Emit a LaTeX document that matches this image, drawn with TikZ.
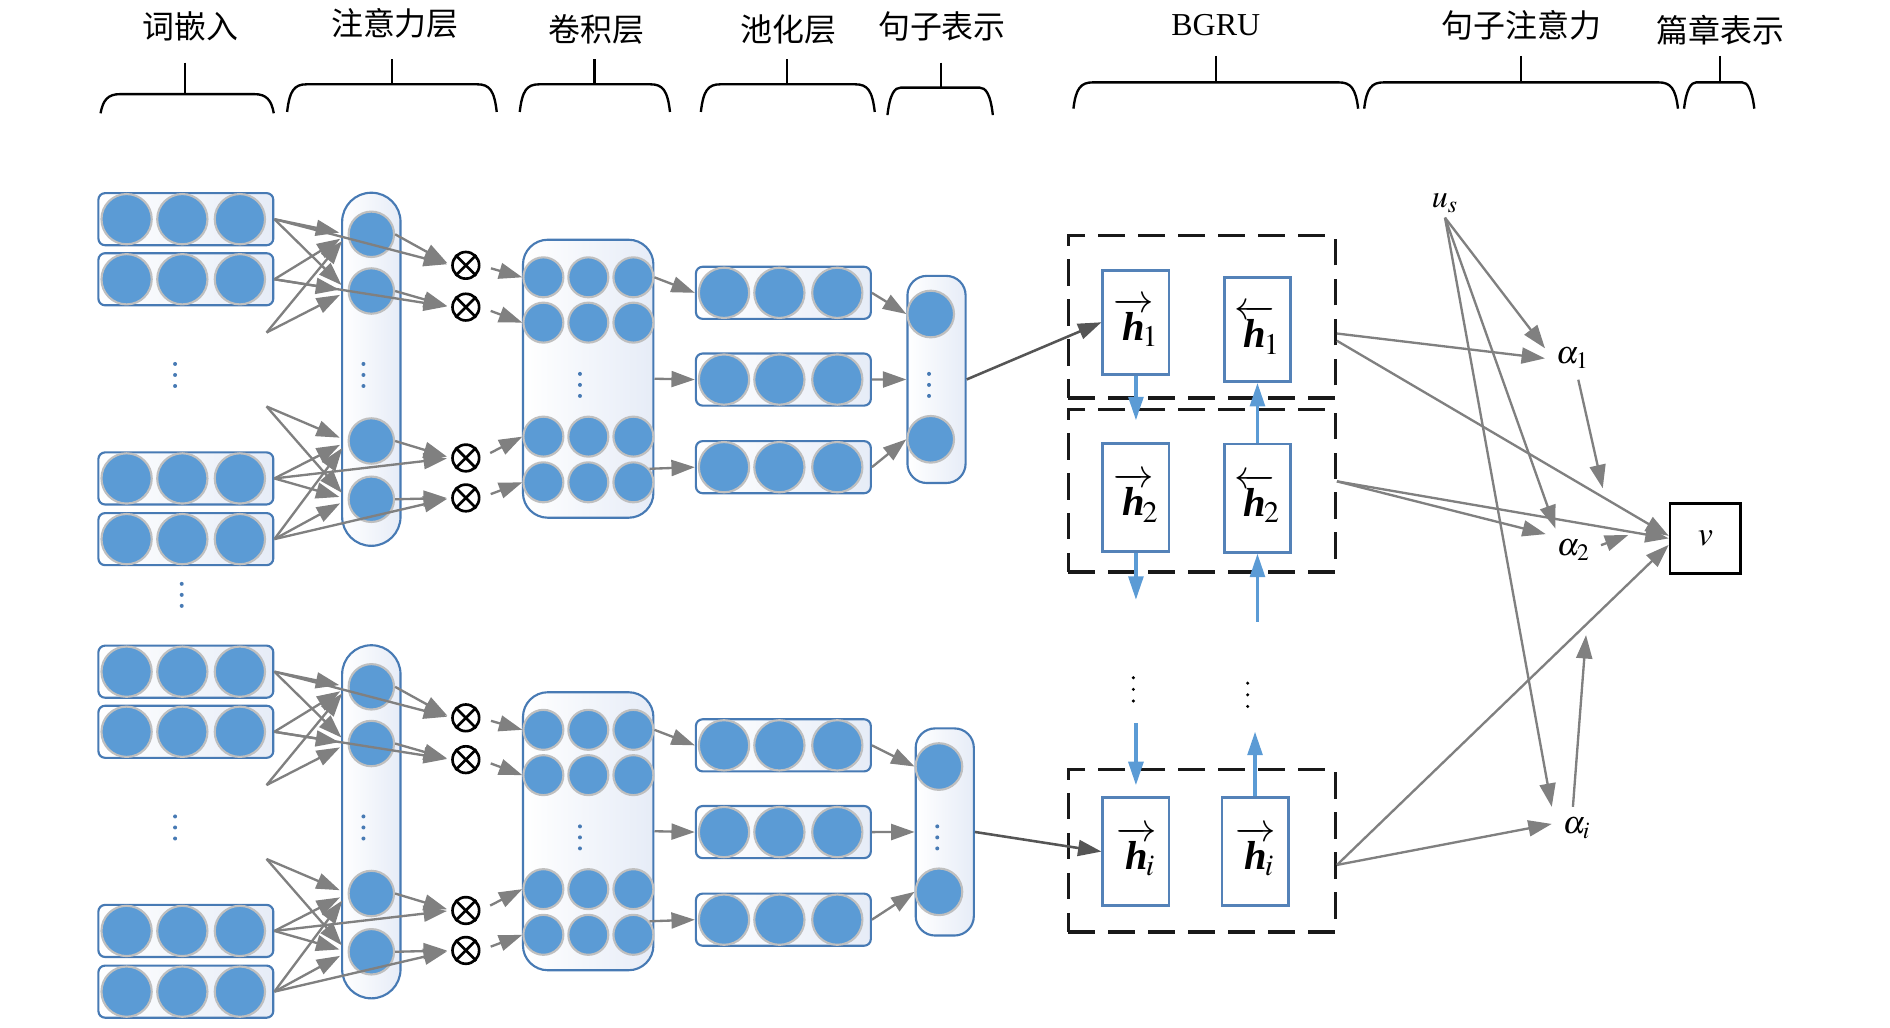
\documentclass[tikz,border=0pt]{standalone}
\usepackage{amsmath}
\usepackage{mathptmx}
\usepackage[no-math]{fontspec}
\setmainfont{Liberation Serif}
\newfontfamily\cjk{Noto Sans CJK SC}
\usetikzlibrary{arrows.meta}
\definecolor{unitblue}{RGB}{91,155,213}
\definecolor{unitgray}{RGB}{191,191,191}
\definecolor{boxblue}{RGB}{71,122,180}
\definecolor{boxbg}{RGB}{230,236,247}
\definecolor{arrowgray}{RGB}{128,128,128}
\definecolor{arrowdark}{RGB}{85,85,85}
\definecolor{hblue}{RGB}{84,130,184}
\newcommand{\hfw}[1]{$\overrightarrow{\text{\bfseries\itshape h}}\mkern-5mu_{#1}$}
\newcommand{\hbw}[1]{$\overleftarrow{\text{\bfseries\itshape h}}\mkern-5mu_{#1}$}
\tikzset{
        % Layer titles and their braces
        node_title/.style={inner sep=0pt, font=\fontsize{15}{18}\selectfont},
        brace_line/.style={draw=black, line width=1.1pt},
        % Vector boxes (word vectors, pooled vectors)
        node_word/.style={rectangle, rounded corners=0.11cm, draw=boxblue, line width=1pt, left color=white, right color=boxbg, minimum width=2.888cm, minimum height=0.86cm, inner sep=0pt},
        node_unit/.style={circle, fill=unitblue, draw=unitgray, line width=1pt, inner sep=0pt, minimum size=0.83cm},
        % Attention column
        node_att/.style={rectangle, rounded corners=0.48cm, draw=boxblue, line width=1pt, left color=white, right color=boxbg, minimum width=0.964cm, minimum height=5.83cm, inner sep=0pt},
        node_att_unit/.style={node_unit, minimum size=0.75cm},
        % Product nodes
        node_mult/.style={circle, draw=black, line width=1.25pt, fill=white, minimum size=0.44cm, inner sep=0pt},
        % Convolution block
        node_conv/.style={rectangle, rounded corners=0.41cm, draw=boxblue, line width=1pt, left color=white, right color=boxbg, minimum width=2.154cm, minimum height=4.59cm, inner sep=0pt},
        node_conv_unit/.style={node_unit, minimum size=0.66cm},
        % Sentence vector
        node_sent/.style={rectangle, rounded corners=0.32cm, draw=boxblue, line width=1pt, left color=white, right color=boxbg, minimum width=0.96cm, minimum height=3.42cm, inner sep=0pt},
        node_sent_unit/.style={node_unit, minimum size=0.77cm},
        % BGRU cells
        node_gru/.style={rectangle, draw=hblue, line width=1.25pt, fill=white, minimum width=1.094cm, minimum height=1.79cm, inner sep=0pt, font=\fontsize{19}{22}\selectfont},
        node_group/.style={rectangle, draw=black!90, line width=1.5pt, dash pattern=on 0.44cm off 0.22cm, minimum width=4.408cm, minimum height=2.68cm, inner sep=0pt},
        % Sentence attention and document vector
        node_math/.style={inner sep=5pt, font=\fontsize{15}{18}\selectfont},
        node_doc/.style={rectangle, draw=black, line width=1.25pt, minimum width=1.166cm, minimum height=1.154cm, inner sep=0pt, font=\fontsize{16}{18}\selectfont},
        % Connectors
        arrow_gray/.style={draw=arrowgray, line width=1.1pt, -{Triangle[length=11pt,width=7.5pt]}},
        arrow_dark/.style={draw=arrowdark, line width=1.2pt, -{Triangle[length=11pt,width=7.5pt]}},
        arrow_blue/.style={draw=unitblue, line width=1.5pt, -{Triangle[length=11pt,width=7pt]}}
}
\begin{document}
\begin{tikzpicture}[x=0.02cm, y=-0.02cm]
\useasboundingbox (0,0) rectangle (1560,847.7);

% Layer titles
\node[node_title] (t_word) at (157,21.7) {\cjk 词嵌入};
\node[node_title] (t_att) at (326,19) {\cjk 注意力层};
\node[node_title] (t_conv) at (492,24.5) {\cjk 卷积层};
\node[node_title] (t_pool) at (651,24.5) {\cjk 池化层};
\node[node_title] (t_sent) at (777.5,21.7) {\cjk 句子表示};
\node[node_title] (t_gru) at (1003.5,20.7) {BGRU};
\node[node_title] (t_satt) at (1256,20.7) {\cjk 句子注意力};
\node[node_title] (t_doc) at (1420,24.5) {\cjk 篇章表示};

% Braces under the titles
\foreach \xa/\xb/\xt/\yt/\yb/\yk/\r in {83/226/152.5/77.7/93.5/51.6/16, 237/410/323.4/69.6/92.4/48.9/16,
        429/553/490.8/69.6/92.4/48.9/16, 578.5/722/649.5/69.6/92.4/48.9/16, 732.5/819.5/776.5/72.3/95/51.6/11,
        886/1121/1003.5/68/89.7/46.2/16, 1126/1385/1255.5/68/89.7/46.2/16, 1390/1448/1419.5/68/89.7/46.2/10}{
    \draw[brace_line] (\xa,\yb) .. controls (\xa+2,\yt+5) and (\xa+6,\yt) .. (\xa+\r,\yt)
        -- (\xb-\r,\yt) .. controls (\xb-6,\yt) and (\xb-2,\yt+5) .. (\xb,\yb);
    \draw[brace_line] (\xt,\yk) -- (\xt,\yt);
}

% One block per sentence
\foreach \g/\s/\sx in {0/a/773, 373.5/b/779.8}{
    % Word vectors
    \foreach \r/\y in {1/180.9, 2/230.5, 3/394.9, 4/445}{
        \node[node_word] (w\s\r) at (153.4,\y+\g) {};
        \foreach \k/\x in {1/104.5, 2/150.5, 3/198}
            \node[node_unit] (w\s\r-\k) at (\x,\y+\g) {};
    }
    % Attention layer
    \node[node_att] (att\s) at (306.5,304.8+\g) {};
    \foreach \r/\y in {1/193.4, 2/240.2, 3/364, 4/412.1}
        \node[node_att_unit] (c\s\r) at (306.5,\y+\g) {};
    % Products
    \foreach \r/\y in {1/219, 2/253.5, 3/378, 4/411}{
        \node[node_mult] (m\s\r) at (384.5,\y+\g) {};
        \draw[line width=1.25pt] (m\s\r.45) -- (m\s\r.225) (m\s\r.135) -- (m\s\r.-45);
    }
    % Convolution layer
    \node[node_conv] (cv\s) at (485.5,312.6+\g) {};
    \foreach \r/\y in {1/228.9, 2/266.3, 3/360.4, 4/398.1}
        \foreach \k/\x in {1/448.5, 2/485.6, 3/522.8}
            \node[node_conv_unit] (cv\s\r-\k) at (\x,\y+\g) {};
    % Pooling layer
    \foreach \r/\y in {1/241.7, 2/313.3, 3/385.6}{
        \node[node_word] (p\s\r) at (646.6,\y+\g) {};
        \foreach \k/\x in {1/597.6, 2/643.3, 3/691.1}
            \node[node_unit] (p\s\r-\k) at (\x,\y+\g) {};
    }
    % Sentence vector
    \node[node_sent] (s\s) at (\sx,313.2+\g) {};
    \node[node_sent_unit] (s\s1) at (\sx-4.8,259.2+\g) {};
    \node[node_sent_unit] (s\s2) at (\sx-4.8,362.6+\g) {};
    % Ellipses
    \foreach \x/\y in {144.5/309.5, 300/309.5, 478.7/317.7, \sx-6.2/317.7}
        \foreach \d in {-1,0,1}
            \fill[boxblue] (\x,\y+\g+\d*9.1) circle (0.033cm);

    % Word vectors to attention units
    \coordinate (d\s1) at (220,274.5+\g);
    \coordinate (d\s2) at (220,335.5+\g);
    \foreach \t/\u in {1/1, 1/2, 2/1, 2/2, 3/3, 3/4, 4/3, 4/4}
        \draw[arrow_gray, shorten >=0.14cm] (w\s\t.east) -- (c\s\u.west);
    \foreach \t/\u in {1/1, 1/2, 2/3, 2/4}
        \draw[arrow_gray, shorten >=0.14cm] (d\s\t) -- (c\s\u.west);
    % Into the products and on to the convolution
    \foreach \t in {1,...,4}{
        \draw[arrow_gray, shorten >=2pt] (w\s\t.east) -- (m\s\t.west);
        \draw[arrow_gray, shorten >=2pt] (c\s\t.east) -- (m\s\t.west);
        \draw[arrow_gray, shorten <=0.18cm] (m\s\t.east) -- (cv\s\t-1.west);
    }
    % Convolution to pooling
    \draw[arrow_gray] (cv\s1-3.east) -- (p\s1.west);
    \draw[arrow_gray] (cv\s.east) -- (p\s2.west);
    \draw[arrow_gray] (cv\s4-3.40) -- (p\s3.west);
    % Pooling to sentence vector
    \draw[arrow_gray] (p\s1.east) -- (s\s1.west);
    \draw[arrow_gray] (p\s2.east) -- (s\s.west);
    \draw[arrow_gray] (p\s3.east) -- (s\s2.west);
}
\foreach \d in {-1,0,1}
    \fill[boxblue] (150,491+\d*9.1) circle (0.033cm);

% BGRU
\node[node_group] (grp1) at (992,261.6) {};
\node[node_group] (grp2) at (992,405.1) {};
\node[node_group] (grpi) at (992,702.2) {};
\node[node_gru, minimum height=1.72cm] (h1f) at (937.6,266) {\hfw{1}};
\node[node_gru, minimum height=1.72cm] (h1b) at (1037.9,272) {\hbw{1}};
\node[node_gru] (h2f) at (937.6,410.7) {\hfw{2}};
\node[node_gru] (h2b) at (1037.9,411.2) {\hbw{2}};
\node[node_gru] (hif) at (937.6,702.9) {\hfw{i}};
\node[node_gru] (hib) at (1035.9,702.9) {\hfw{i}};
\foreach \x/\y in {935.5/569, 1029.8/573.5}
    \foreach \d in {-1,0,1}
        \fill[black] (\x,\y+\d*9.6) circle (0.028cm);

\draw[arrow_dark] (sa.east) -- (h1f.west);
\draw[arrow_dark] (sb.east) -- (hif.west);

\coordinate (h2f_out) at (937.6,495);
\coordinate (h2b_in) at (1037.9,513);
\coordinate (hif_in) at (937.6,597);
\coordinate (hib_out) at (1035.9,604);
\draw[arrow_blue, shorten >=0.36cm] (h1f) -- (h2f);
\draw[arrow_blue] (h2b) -- (h1b);
\draw[arrow_blue] (h2f) -- (h2f_out);
\draw[arrow_blue] (h2b_in) -- (h2b);
\draw[arrow_blue, shorten >=0.18cm] (hif_in) -- (hif);
\draw[arrow_blue] (hib) -- (hib_out);

% Sentence attention
\node[node_math, inner sep=2pt] (us) at (1192.7,168) {$u_s$};
\node[node_math] (a1) at (1298,295.8) {$\alpha_1$};
\node[node_math] (a2) at (1298.7,454) {$\alpha_2$};
\node[node_math] (ai) at (1301.4,683.7) {$\alpha_i$};
\node[node_doc] (v) at (1407.6,444.4) {$v$};
\coordinate (a1_out) at (1322.9,403);
\coordinate (a2_out) at (1344,441.6);
\coordinate (ai_out) at (1309.1,524.2);

\draw[arrow_gray] (us.south) -- (a1.160);
\draw[arrow_gray] (us.south) -- (a2.130);
\draw[arrow_gray] (us.south) -- (ai.north west);
\draw[arrow_gray] (grp1.-7) -- (a1.west);
\draw[arrow_gray] (grp1.-10) -- (v.176);
\draw[arrow_gray] (grp2.4) -- (a2.150);
\draw[arrow_gray] (grp2.4) -- (v.180);
\draw[arrow_gray] (grpi.-6.5) -- (ai.170);
\draw[arrow_gray] (grpi.-6.5) -- (v.190);
\draw[arrow_gray] (a1.-75) -- (a1_out);
\draw[arrow_gray] (a2.10) -- (a2_out);
\draw[arrow_gray] (ai.100) -- (ai_out);
\end{tikzpicture}
\end{document}
